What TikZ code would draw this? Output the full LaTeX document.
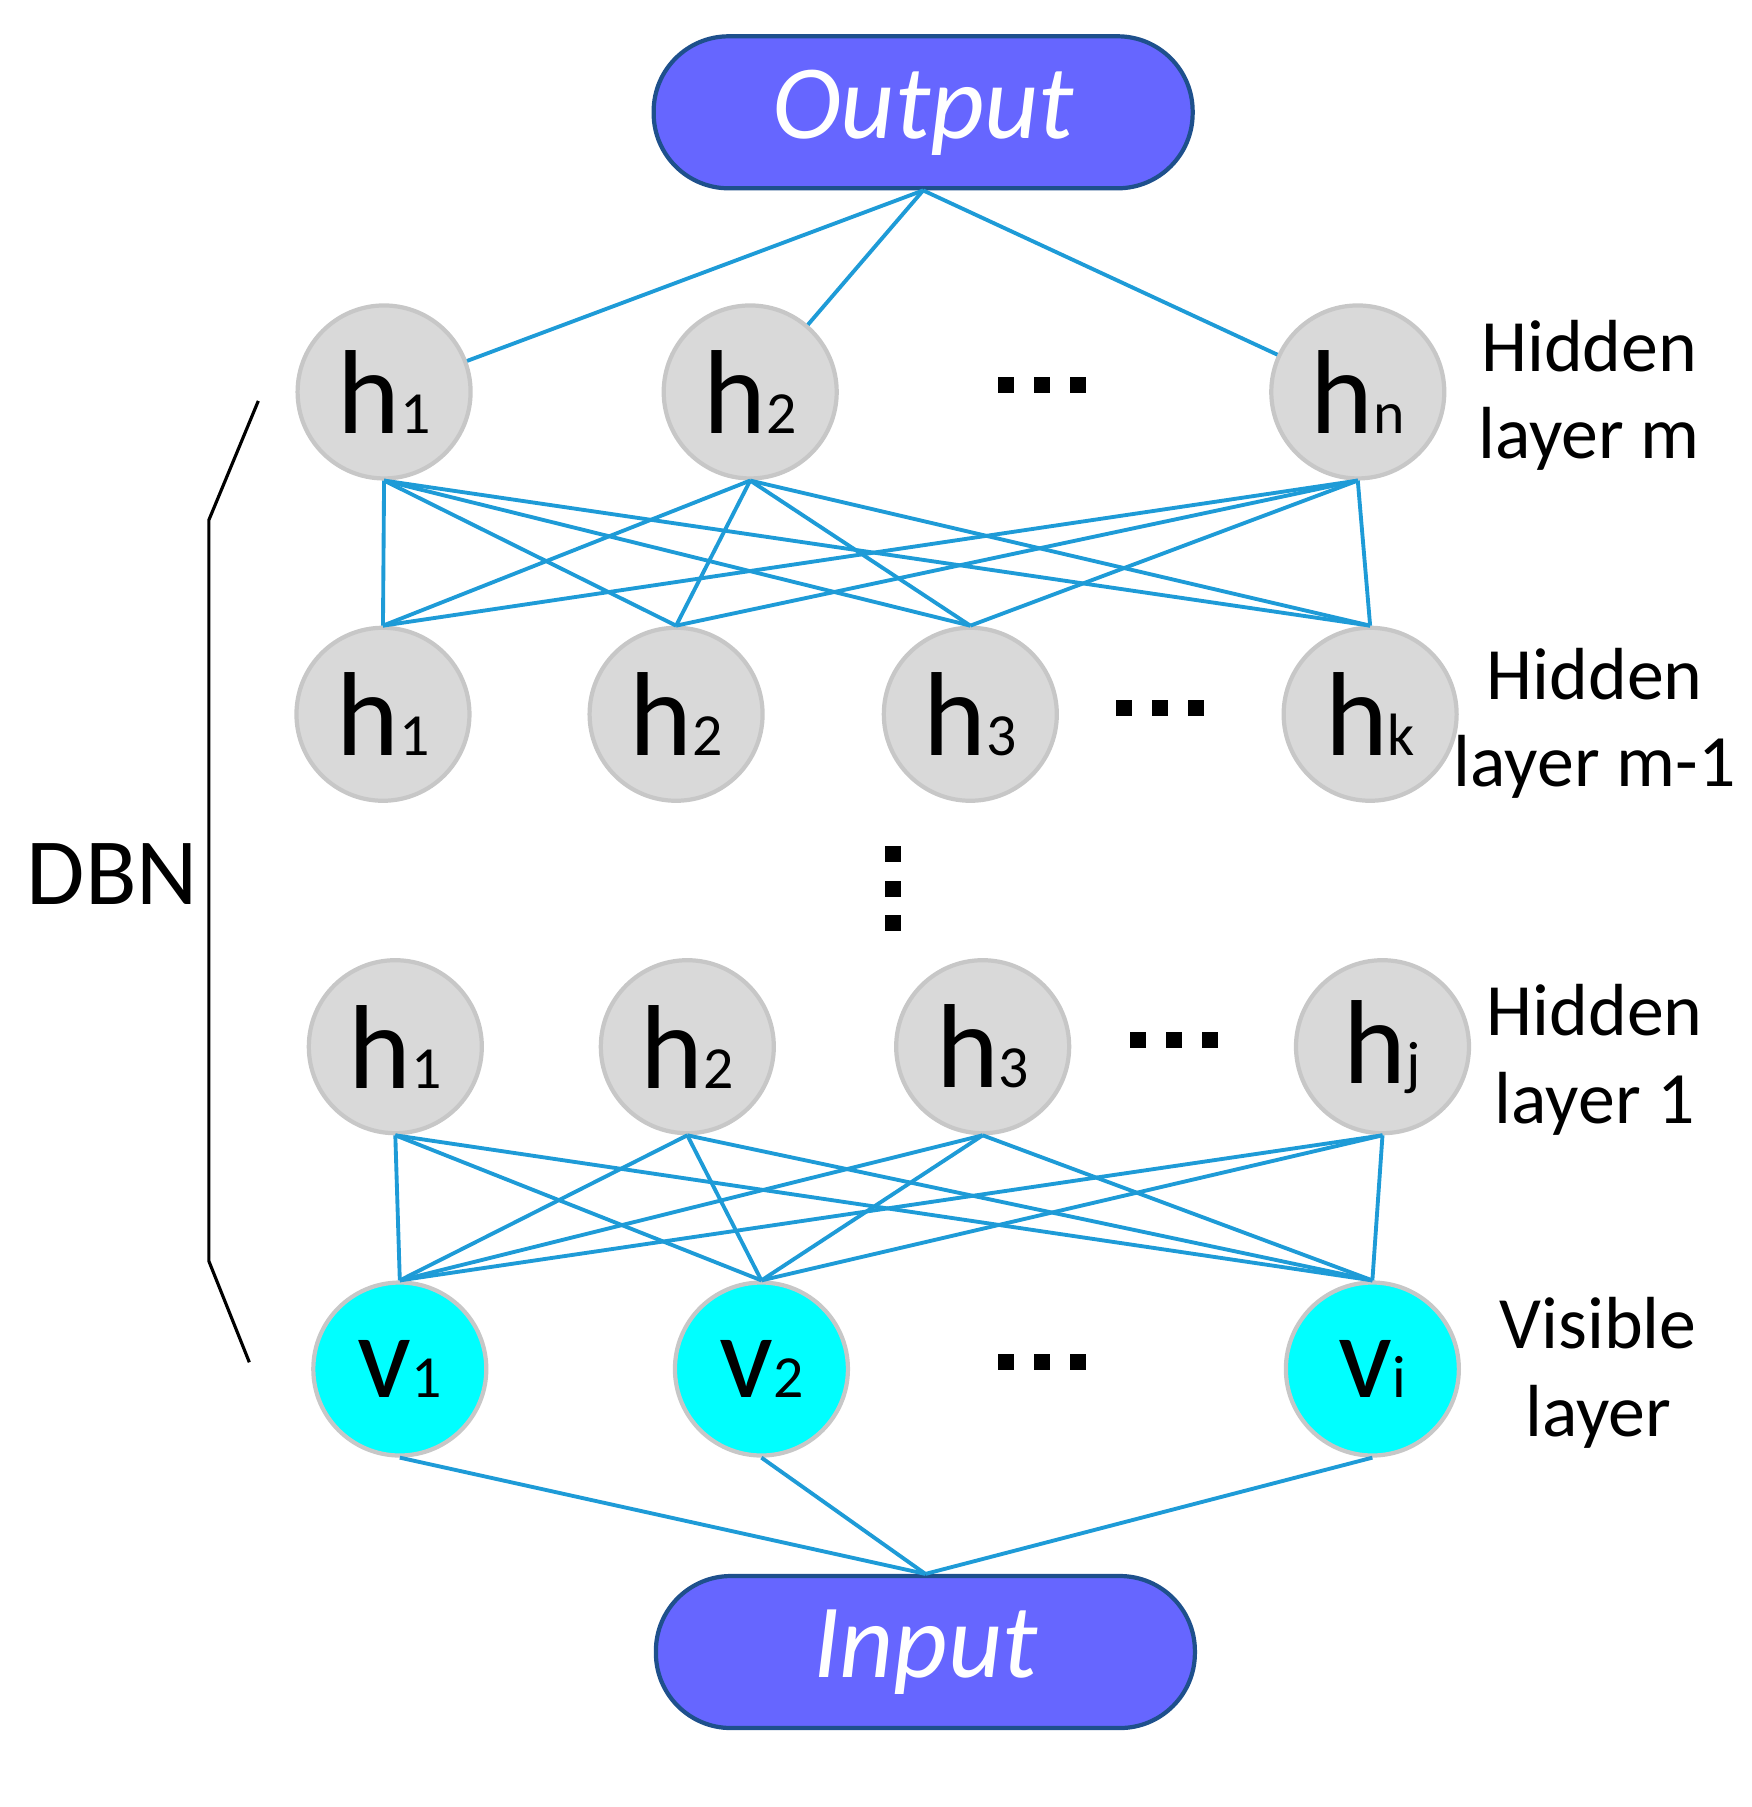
\documentclass[tikz,border=0pt]{standalone}
\usepackage{fontspec}
\setmainfont{Carlito}
\definecolor{cy}{RGB}{0,255,255}
\definecolor{iof}{RGB}{102,102,255}
\definecolor{iod}{RGB}{30,80,140}
\definecolor{ln}{RGB}{30,155,215}
\begin{document}
\begin{tikzpicture}[x=0.01123cm,y=-0.01123cm,
 unit/.style={circle,minimum size=1.73cm,inner sep=0pt,draw=black!22,line width=1.2pt,font=\fontsize{34}{34}\selectfont},
 hid/.style={unit,fill=black!15},
 vis/.style={unit,fill=cy},
 io/.style={rounded corners=0.75cm,minimum width=5.39cm,minimum height=1.52cm,fill=iof,draw=iod,line width=1.2pt,text=white,font=\fontsize{30}{30}\selectfont\itshape},
 con/.style={draw=ln,line width=1.1pt},
 lab/.style={align=center,font=\fontsize{21}{25}\selectfont},
 dot/.style={fill=black,minimum size=0.16cm,inner sep=0pt}]
\useasboundingbox (0,0) rectangle (1560,1609);
\newcommand{\hs}[2]{#1{\fontsize{17}{17}\selectfont #2}}
\newcommand{\hdots}[2]{\foreach \d in {-32,0,32}{\node[dot] at (#1+\d,#2) {};}}
\node[io] (out) at (822,100) {Output};
\node[io] (in) at (824,1471) {Input};
% layer m
\node[hid] (a1) at (342,349) {\hs{h}{1}};
\node[hid] (a2) at (668,349) {\hs{h}{2}};
\node[hid] (a3) at (1209,349) {\hs{h}{n}};
\hdots{928}{343}
% layer m-1
\node[hid] (b1) at (341,636) {\hs{h}{1}};
\node[hid] (b2) at (602,636) {\hs{h}{2}};
\node[hid] (b3) at (864,636) {\hs{h}{3}};
\node[hid] (b4) at (1220,636) {\hs{h}{k}};
\hdots{1033}{630}
\foreach \yy in {760,792,822}{\node[dot] at (795,\yy) {};}
% layer 1
\node[hid] (c1) at (352,932) {\hs{h}{1}};
\node[hid] (c2) at (612,932) {\hs{h}{2}};
\node[hid] (c3) at (875,932) {\hs{h}{3}};
\node[hid] (c4) at (1231,932) {\hs{h}{j}};
\hdots{1045}{926}
% visible
\node[vis] (v1) at (356,1219) {\hs{v}{1}};
\node[vis] (v2) at (678,1219) {\hs{v}{2}};
\node[vis] (v3) at (1222,1219) {\hs{v}{i}};
\hdots{928}{1213}
% connectors
\foreach \t in {a1,a2,a3} \draw[con] (out.south) -- (\t);
\foreach \u in {a1,a2,a3}{\foreach \l in {b1,b2,b3,b4}{\draw[con] (\u.south) -- (\l.north);}}
\foreach \u in {c1,c2,c3,c4}{\foreach \l in {v1,v2,v3}{\draw[con] (\u.south) -- (\l.north);}}
\foreach \t in {v1,v2,v3} \draw[con] (\t.south) -- (in.north);
% bracket
\coordinate (k1) at (230,357); \coordinate (k2) at (186,463);
\coordinate (k3) at (186,1123); \coordinate (k4) at (222,1213);
\draw[line width=0.9pt] (k1) -- (k2) -- (k3) -- (k4);
\node[font=\fontsize{27}{27}\selectfont] (dbn) at (100,778) {DBN};
\node[lab] (l1) at (1415,352) {Hidden\\layer m};
\node[lab] (l2) at (1420,644) {Hidden\\layer m-1};
\node[lab] (l3) at (1420,944) {Hidden\\layer 1};
\node[lab] (l4) at (1423,1222) {Visible\\layer};
\end{tikzpicture}
\end{document}
